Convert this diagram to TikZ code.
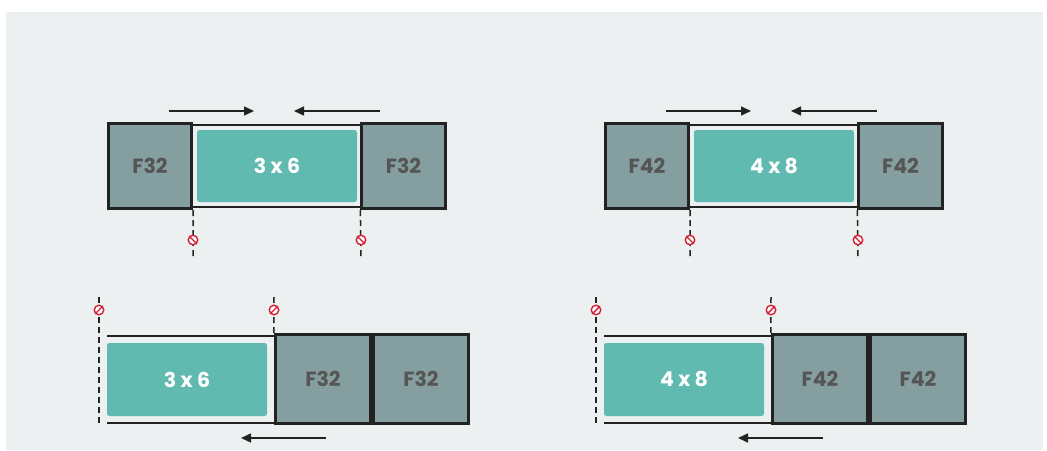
\documentclass[tikz,border=0pt]{standalone}
\usepackage{fontspec}
\setmainfont{Poppins}
\usetikzlibrary{arrows.meta}

\definecolor{panel}{HTML}{ECF0F1}
\definecolor{fuse}{HTML}{859E9F}
\definecolor{cell}{HTML}{60BAB0}
\definecolor{ink}{HTML}{222222}
\definecolor{label}{HTML}{555555}
\definecolor{stopred}{HTML}{D42034}

\tikzset{
  fusebox/.style={draw=ink, line width=2.8pt, fill=fuse, inner sep=0pt,
    minimum width=83.5pt, minimum height=85.5pt, text=label,
    font=\bfseries\fontsize{20.5}{20.5}\selectfont},
  cellbox/.style={fill=cell, rounded corners=2.5pt, inner sep=0pt,
    minimum width=160pt, minimum height=72pt, text=white,
    font=\bfseries\fontsize{20.5}{20.5}\selectfont},
  rail/.style={draw=ink, line width=1.5pt},
  guide/.style={draw=ink, line width=1.5pt, dash pattern=on 6pt off 4pt},
  push/.style={draw=ink, line width=1.5pt, -{Triangle[length=10pt,width=9pt]}},
  nosign/.style={circle, draw=stopred, fill=white, line width=1.4pt,
    minimum size=9.5pt, inner sep=0pt},
  slash/.style={draw=stopred, line width=1.4pt}
}

\begin{document}
\begin{tikzpicture}[x=1pt, y=-1pt]
  \useasboundingbox (0,0) rectangle (1047,450);
  \fill[panel] (6,12) rectangle (1043,450);

  \foreach \dx/\fuse/\size [count=\n] in {0/F32/3 x 6, 497/F42/4 x 8}
  {
  \begin{scope}[xshift=\dx pt]
    % closing: two fuses pressed from both sides
    \node[fusebox] (lf\n) at (150,166) {\fuse};
    \node[fusebox] (rf\n) at (403.5,166) {\fuse};
    \node[cellbox] (c\n) at (277,166) {\size};
    \draw[rail] ([yshift=-3pt]lf\n.north east) -- ([yshift=-3pt]rf\n.north west);
    \draw[rail] ([yshift=3pt]lf\n.south east) -- ([yshift=3pt]rf\n.south west);

    \coordinate (pa\n) at (169,111);
    \coordinate (pb\n) at (254,111);
    \coordinate (qa\n) at (380,111);
    \coordinate (qb\n) at (294,111);
    \draw[push] (pa\n) -- (pb\n);
    \draw[push] (qa\n) -- (qb\n);

    \coordinate (gl\n) at (193,258);
    \coordinate (gr\n) at (361,258);
    \draw[guide] (lf\n.south east) -- (gl\n);
    \draw[guide] (rf\n.south west) -- (gr\n);
    \node[nosign] (sl\n) at (193,240) {};
    \node[nosign] (sr\n) at (361,240) {};
    \draw[slash] (sl\n.north west) -- (sl\n.south east);
    \draw[slash] (sr\n.north west) -- (sr\n.south east);

    % opening: both fuses pushed to one side
    \node[fusebox, minimum width=95.5pt, minimum height=89.5pt] (ba\n) at (323,379) {\fuse};
    \node[fusebox, minimum width=95.5pt, minimum height=89.5pt] (bb\n) at (421,379) {\fuse};
    \node[cellbox, minimum height=73pt] (bc\n) at (187,379.5) {\size};
    \coordinate (ta\n) at (107,336);
    \coordinate (tb\n) at (107,423);
    \draw[rail] (ta\n) -- (ta\n -| ba\n.west);
    \draw[rail] (tb\n) -- (tb\n -| ba\n.west);

    \coordinate (ea\n) at (99,297);
    \coordinate (eb\n) at (99,424);
    \coordinate (ec\n) at (274,297);
    \draw[guide] (ea\n) -- (eb\n);
    \draw[guide] (ec\n) -- (ba\n.north west);
    \node[nosign] (su\n) at (99,310) {};
    \node[nosign] (sv\n) at (274,310) {};
    \draw[slash] (su\n.south west) -- (su\n.north east);
    \draw[slash] (sv\n.south west) -- (sv\n.north east);

    \coordinate (ka\n) at (326,438);
    \coordinate (kb\n) at (241,438);
    \draw[push] (ka\n) -- (kb\n);
  \end{scope}
  }
\end{tikzpicture}
\end{document}
